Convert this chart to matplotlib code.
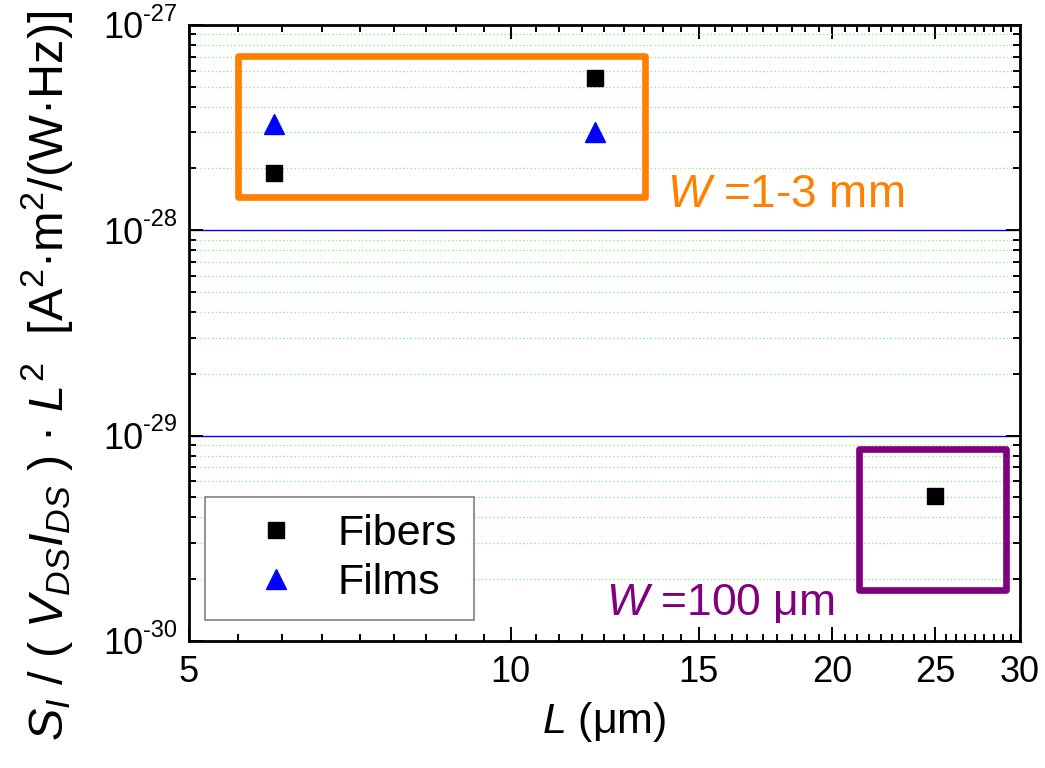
import numpy as np
import matplotlib
import matplotlib.pyplot as plt
from matplotlib.patches import Rectangle
from matplotlib.ticker import FixedLocator, FixedFormatter, LogLocator, NullFormatter

matplotlib.use('Agg')

plt.rcParams['font.family'] = ['Liberation Sans', 'DejaVu Sans']
plt.rcParams['mathtext.fontset'] = 'custom'
plt.rcParams['mathtext.rm'] = 'Liberation Sans'
plt.rcParams['mathtext.it'] = 'Liberation Sans:italic'
plt.rcParams['mathtext.bf'] = 'Liberation Sans:bold'

# data
L_fibers = [6, 12, 25]
S_fibers = [1.9e-28, 5.5e-28, 5.1e-30]
L_films = [6, 12]
S_films = [3.3e-28, 3.0e-28]

# group boxes (L range, S range)
box_mm_L = [5.56, 13.37]
box_mm_S = [1.45e-28, 7.06e-28]
box_um_L = [21.2, 29.1]
box_um_S = [1.78e-30, 8.6e-30]

x_major = [5, 10, 15, 20, 25, 30]
y_major = [1e-30, 1e-29, 1e-28, 1e-27]
y_exps = ['-30', '-29', '-28', '-27']

ORANGE = '#FF8000'
PURPLE = '#800080'

fig = plt.figure(figsize=(10.45, 7.68), dpi=100)
ax = fig.add_axes([0.1809, 0.1654, 0.7952, 0.8021])

ax.set_xscale('log')
ax.set_yscale('log')
ax.set_xlim(5, 30)
ax.set_ylim(1e-30, 1e-27)

# y ticks: "10" as tick label, exponent added as separate small text
ax.yaxis.set_major_locator(FixedLocator(y_major))
ax.yaxis.set_major_formatter(FixedFormatter(['10'] * len(y_major)))
ax.yaxis.set_minor_locator(LogLocator(base=10, subs=np.arange(2, 10)))
ax.yaxis.set_minor_formatter(NullFormatter())
ax.grid(True, which='major', axis='y', color='#0000FF', lw=1.0)
ax.grid(True, which='minor', axis='y', color='#7FEE7F', lw=0.9, ls=(0, (1, 2)))
ax.set_axisbelow(True)

# x ticks: 8 minor ticks between majors
minor_x = []
for a, b in zip(x_major[:-1], x_major[1:]):
    minor_x.extend(np.linspace(a, b, 10)[1:-1])
ax.xaxis.set_major_locator(FixedLocator(x_major))
ax.xaxis.set_major_formatter(FixedFormatter([str(v) for v in x_major]))
ax.xaxis.set_minor_locator(FixedLocator(minor_x))
ax.xaxis.set_minor_formatter(NullFormatter())

ax.tick_params(which='both', direction='in', top=True, right=True, width=1.4)
ax.tick_params(which='major', length=10, labelsize=26)
ax.tick_params(which='minor', length=5)
ax.tick_params(axis='x', which='major', pad=10)
ax.tick_params(axis='y', which='major', pad=33)
for s in ax.spines.values():
    s.set_linewidth(2)

for yv, e in zip(y_major, y_exps):
    ax.annotate(e, xy=(-0.0554, yv), xycoords=('axes fraction', 'data'),
                xytext=(0, 3), textcoords='offset points', fontsize=17,
                ha='left', va='baseline', annotation_clip=False)

ax.plot(L_fibers, S_fibers, ls='none', marker='s', ms=12, color='black', label='Fibers')
ax.plot(L_films, S_films, ls='none', marker='^', ms=15, color='#0000FF', label='Films')

ax.add_patch(Rectangle((box_mm_L[0], box_mm_S[0]), box_mm_L[1] - box_mm_L[0],
                       box_mm_S[1] - box_mm_S[0], fill=False, ec=ORANGE, lw=4.8,
                       joinstyle='round', zorder=3))
ax.add_patch(Rectangle((box_um_L[0], box_um_S[0]), box_um_L[1] - box_um_L[0],
                       box_um_S[1] - box_um_S[0], fill=False, ec=PURPLE, lw=4.8,
                       joinstyle='round', zorder=3))

ax.text(0.575, 0.7045, r'$W$ =1-3 mm', color=ORANGE, fontsize=33,
        transform=ax.transAxes, ha='left', va='baseline')
ax.text(0.502, 0.042, r'$W$ =100 μm', color=PURPLE, fontsize=32,
        transform=ax.transAxes, ha='left', va='baseline')

leg = ax.legend(loc='lower left', bbox_to_anchor=(0.019, 0.034), borderaxespad=0,
                fontsize=31, handlelength=2.5, handletextpad=0.17, borderpad=0.4,
                labelspacing=0.2, fancybox=False, framealpha=1, edgecolor='#808080')
leg.get_frame().set_linewidth(1.2)

ax.set_xlabel(r'$L$ (μm)', fontsize=31)
ax.xaxis.set_label_coords(0.5, -0.096)
ax.set_ylabel(r'$S_I$ / ( $V_{DS}I_{DS}$ ) · $L^2$  [A$^2$·m$^2$/(W·Hz)]', fontsize=35)
ax.yaxis.set_label_coords(-0.137, 0.43)

fig.savefig('out.png', dpi=100)
